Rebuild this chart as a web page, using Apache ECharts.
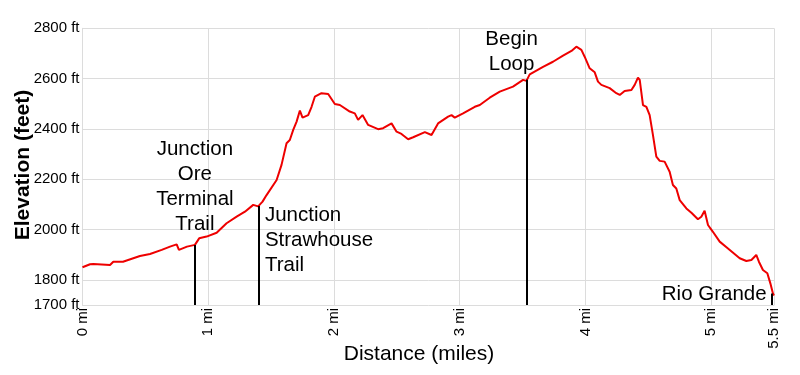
<!DOCTYPE html>
<html>
<head>
<meta charset="utf-8">
<script src="https://cdn.jsdelivr.net/npm/echarts@6/dist/echarts.min.js"></script>
<style>
html,body{margin:0;padding:0;background:#fff;}
#chart{width:800px;height:375px;}
</style>
</head>
<body>
<div id="chart"></div>
<script>
const distanceMi = [0, 0.06, 0.086, 0.219, 0.245, 0.322, 0.457, 0.537, 0.630, 0.696,
  0.749, 0.767, 0.831, 0.894, 0.928, 0.987, 1.067, 1.146, 1.226, 1.292,
  1.358, 1.397, 1.432, 1.464, 1.544, 1.583, 1.623, 1.649, 1.676, 1.703,
  1.729, 1.750, 1.795, 1.822, 1.848, 1.901, 1.954, 2.007, 2.047, 2.126,
  2.166, 2.192, 2.227, 2.272, 2.351, 2.391, 2.458, 2.498, 2.537, 2.590,
  2.630, 2.723, 2.776, 2.828, 2.908, 2.935, 2.961, 3.027, 3.120, 3.160,
  3.239, 3.319, 3.424, 3.504, 3.531, 3.557, 3.663, 3.742, 3.822, 3.889,
  3.928, 3.968, 3.994, 4.034, 4.074, 4.100, 4.127, 4.193, 4.246, 4.273,
  4.312, 4.366, 4.392, 4.418, 4.432, 4.458, 4.485, 4.511, 4.537, 4.564,
  4.591, 4.630, 4.670, 4.696, 4.723, 4.750, 4.803, 4.843, 4.895, 4.922,
  4.948, 4.975, 5.014, 5.068, 5.134, 5.227, 5.280, 5.320, 5.359, 5.380,
  5.412, 5.447, 5.471, 5.491, 5.5];

const elevationFt = [1850, 1862, 1863, 1859, 1872, 1872, 1895, 1903, 1919, 1932,
  1941, 1919, 1932, 1939, 1965, 1972, 1987, 2025, 2051, 2071,
  2098, 2092, 2111, 2137, 2197, 2257, 2343, 2356, 2396, 2429,
  2473, 2445, 2455, 2488, 2528, 2542, 2539, 2499, 2495, 2469,
  2462, 2436, 2455, 2416, 2399, 2403, 2422, 2389, 2380, 2359,
  2367, 2387, 2376, 2422, 2449, 2455, 2445, 2462, 2488, 2495,
  2524, 2548, 2568, 2595, 2591, 2617, 2647, 2667, 2691, 2710,
  2727, 2714, 2687, 2641, 2625, 2588, 2575, 2562, 2542, 2535,
  2551, 2555, 2575, 2604, 2595, 2495, 2488, 2455, 2376, 2290,
  2273, 2270, 2230, 2177, 2163, 2117, 2084, 2067, 2041, 2051,
  2075, 2018, 1991, 1952, 1925, 1886, 1875, 1879, 1899, 1872,
  1839, 1826, 1786, 1747, 1738];

const annotationNames = ['Junction\nOre\nTerminal\nTrail', 'Junction\nStrawhouse\nTrail', 'Begin\nLoop', 'Rio Grande'];
const annotationMi = [0.894, 1.403, 3.536, 5.485];
const annotationFt = [1939, 2094, 2595, 1746];

const yTickValues = [1700, 1800, 2000, 2200, 2400, 2600, 2800];
const xTickValues = [0, 1, 2, 3, 4, 5, 5.5];

const FONT = "'Liberation Sans', Arial, sans-serif";
const GRID = '#dcdcdc';

// label placement for each annotation (style, not data)
const labelStyles = [
  { position: [0.5, -8], align: 'center', verticalAlign: 'bottom' },
  { position: [6.5, -2.5], align: 'left', verticalAlign: 'top' },
  { position: [-15, -53], align: 'center', verticalAlign: 'top' },
  { position: [-5, 1.5], align: 'right', verticalAlign: 'middle' }
];

const baseY = yTickValues[0];

const chart = echarts.init(document.getElementById('chart'), null, { renderer: 'canvas' });
chart.setOption({
  animation: false,
  backgroundColor: '#fff',
  grid: { left: 82.5, right: 26, top: 28.3, bottom: 70, outerBoundsMode: 'none', containLabel: false },
  xAxis: {
    type: 'value', min: xTickValues[0], max: xTickValues[xTickValues.length - 1], interval: 1,
    axisLine: { show: true, lineStyle: { color: GRID, width: 1 } },
    axisTick: { show: false },
    splitLine: { show: true, lineStyle: { color: GRID, width: 1 } },
    axisLabel: {
      rotate: 90, margin: 3, fontSize: 15, color: '#000', fontFamily: FONT,
      formatter: v => xTickValues.includes(v) ? v + ' mi' : ''
    }
  },
  yAxis: {
    type: 'value', min: yTickValues[0], max: yTickValues[yTickValues.length - 1], interval: 100,
    axisLine: { show: true, lineStyle: { color: GRID, width: 1 } },
    axisTick: { show: false },
    splitLine: { show: true, lineStyle: { color: ['transparent', GRID], width: 1 } },
    axisLabel: {
      margin: 3, fontSize: 15, color: '#000', fontFamily: FONT,
      formatter: v => yTickValues.includes(v) ? v + ' ft' : ''
    }
  },
  graphic: [
    { type: 'text', x: 23, y: 165, rotation: Math.PI / 2,
      style: { text: 'Elevation (feet)', font: "bold 21px " + FONT, fill: '#000', align: 'center', verticalAlign: 'middle' } },
    { type: 'text', x: 419, y: 354,
      style: { text: 'Distance (miles)', font: "21px " + FONT, fill: '#000', align: 'center', verticalAlign: 'middle' } }
  ],
  series: [{
    type: 'line',
    data: distanceMi.map((d, i) => [d, elevationFt[i]]),
    showSymbol: false,
    symbol: 'none',
    lineStyle: { color: '#ee0000', width: 2 },
    itemStyle: { color: '#ee0000' },
    z: 2,
    markLine: {
      silent: true,
      symbol: ['none', 'none'],
      lineStyle: { color: '#000', width: 2, type: 'solid' },
      label: { show: false },
      data: annotationMi.map((m, i) => [{ coord: [m, baseY] }, { coord: [m, annotationFt[i]] }])
    },
    markPoint: {
      silent: true,
      symbol: 'circle',
      symbolSize: 1,
      itemStyle: { color: 'transparent' },
      data: annotationMi.map((m, i) => ({
        coord: [m, annotationFt[i]],
        label: {
          show: true,
          formatter: annotationNames[i],
          position: labelStyles[i].position,
          align: labelStyles[i].align,
          verticalAlign: labelStyles[i].verticalAlign,
          fontSize: 20.5, lineHeight: 25, color: '#000', fontFamily: FONT
        }
      }))
    }
  }]
});
</script>
</body>
</html>
